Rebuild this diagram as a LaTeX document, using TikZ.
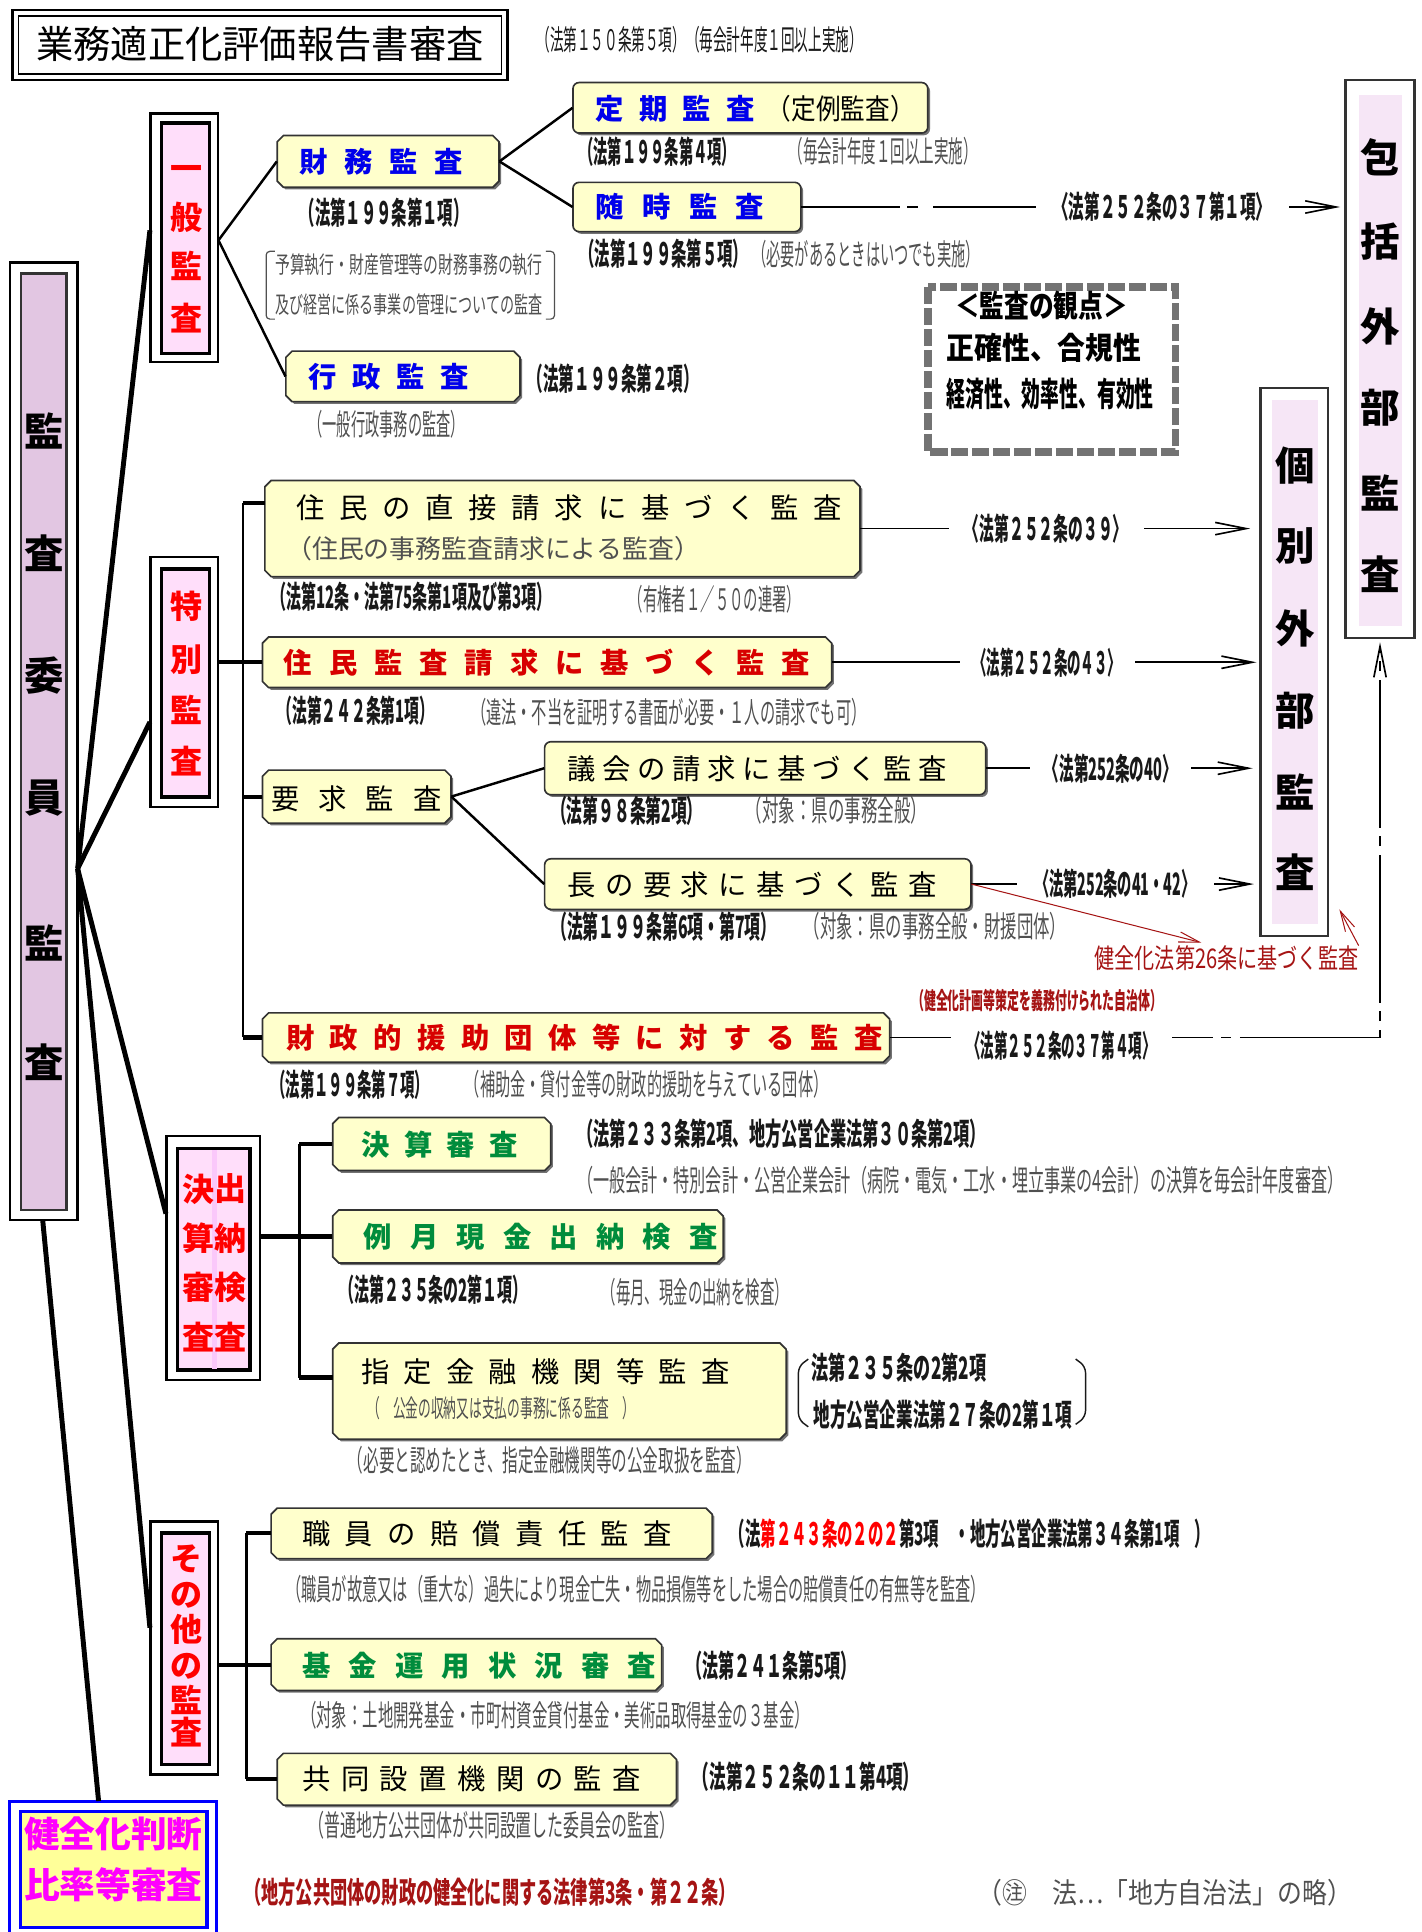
\documentclass[tikz,border=0pt]{standalone}
\usepackage{fontspec}
\usepackage{graphicx}
\setmainfont{Noto Sans CJK JP}
\usetikzlibrary{arrows.meta,fit}
\newlength\upx
\setlength\upx{0.6pt}
\newcommand\fs[1]{\fontsize{#1\upx}{#1\upx}\selectfont}
\newcommand\fw[2]{\resizebox{#1\upx}{\height}{#2}}
\def\sprx#1#2{#1\ifx#2\relax\else\hfill\expandafter\sprx\expandafter#2\fi}
\newcommand\spr[2]{\makebox[#1\upx][s]{\sprx#2\relax}}
\definecolor{lyel}{RGB}{255,255,204}
\definecolor{mpur}{RGB}{226,198,226}
\definecolor{lpink}{RGB}{255,222,250}
\definecolor{lpinkb}{RGB}{246,230,246}
\definecolor{pstripe}{RGB}{250,200,250}
\definecolor{jblue}{RGB}{0,0,235}
\definecolor{jred}{RGB}{215,0,0}
\definecolor{vred}{RGB}{255,0,0}
\definecolor{jgreen}{RGB}{0,140,60}
\definecolor{dred}{RGB}{165,20,20}
\definecolor{kyel}{RGB}{255,255,153}
\definecolor{mag}{RGB}{255,0,255}
\definecolor{lawc}{RGB}{25,25,25}
\definecolor{gnc}{RGB}{80,80,80}
\tikzset{
  ybox/.style={fill=lyel, draw=black!80, line width=0.8pt},
  shad/.style={fill=black!55},
  tx/.style={anchor=west, inner sep=0pt},
  vmain/.style={font=\fs{32}\bfseries, inner sep=0pt},
  vredch/.style={font=\fs{26}\bfseries, text=vred, inner sep=0pt},
  fanline/.style={line width=2.4pt},
  thinl/.style={line width=1.2pt},
  busl/.style={line width=1.1pt},
  stub/.style={line width=2pt},
  arrline/.style={line width=0.8pt, -{Straight Barb[length=15pt,width=6pt]}},
  redarr/.style={draw=dred, line width=0.5pt, -{Straight Barb[length=10pt,width=5pt]}},
  lbl/.style={fill=white, inner ysep=1pt, font=\fs{25}\bfseries, text=lawc},
}
\newcommand\chbox[5]{%
  \fill[shad,shift={(1.8,1.8)}] (#2+5,#3) -- (#4-5,#3) -- (#4,#3+5) -- (#4,#5-5) -- (#4-5,#5) -- (#2+5,#5) -- (#2,#5-5) -- (#2,#3+5) -- cycle;
  \filldraw[ybox] (#2+5,#3) -- (#4-5,#3) -- (#4,#3+5) -- (#4,#5-5) -- (#4-5,#5) -- (#2+5,#5) -- (#2,#5-5) -- (#2,#3+5) -- cycle;
  \node[fit={(#2,#3) (#4,#5)}, inner sep=0pt] (#1) {};}
\newcommand\rdbox[5]{%
  \fill[shad,rounded corners=5\upx,shift={(1.8,1.8)}] (#2,#3) rectangle (#4,#5);
  \filldraw[ybox,rounded corners=5\upx] (#2,#3) rectangle (#4,#5);
  \node[fit={(#2,#3) (#4,#5)}, inner sep=0pt] (#1) {};}
\newcommand\nt[6]{\node[tx, text=#5, font=\fs{#4}] (#1) at (#2) {\fw{#3}{#6}};}
\newcommand\ntb[6]{\node[tx, text=#5, font=\fs{#4}\bfseries] (#1) at (#2) {\fw{#3}{#6}};}
\begin{document}
\begin{tikzpicture}[x=0.6pt,y=-0.6pt]
\useasboundingbox (0,0) rectangle (1154,1568);

% ---------- title
\draw[line width=1.3pt] (10,8) rectangle (412,65);
\draw[line width=0.9pt] (15,13) rectangle (407,60);
\node[fit={(10,8) (412,65)}, inner sep=0pt] (titlebox) {};
\node[inner sep=0pt, font=\fs{31}] (title) at (211,36) {\fw{363}{業務適正化評価報告書審査}};
\nt{titleref}{435,32}{265}{23}{lawc}{（法第１５０条第５項）（毎会計年度１回以上実施）}

% ---------- main vertical box
\draw[line width=1.2pt, fill=white] (8,213) rectangle (63,990);
\filldraw[fill=mpur, draw=black!80, line width=1.2pt] (17,222) rectangle (54,982);
\node[fit={(8,213) (63,990)}, inner sep=0pt] (mainO) {};
\foreach \ch/\yy [count=\i] in {監/350,査/449,委/548,員/648,監/765,査/862}
  \node[vmain] (mc\i) at (36,\yy) {\ch};

% ---------- category boxes
\draw[line width=1.2pt, fill=white] (122,92) rectangle (177,294);
\filldraw[fill=lpink, draw=black, line width=1.8pt] (131,100) rectangle (170,287);
\node[fit={(122,92) (177,294)}, inner sep=0pt] (ippanO) {};
\foreach \ch/\yy [count=\i] in {一/140,般/176,監/216,査/258}
  \node[vredch] (ip\i) at (151,\yy) {\ch};

\draw[line width=1.2pt, fill=white] (122,452) rectangle (177,655);
\filldraw[fill=lpink, draw=black, line width=1.8pt] (131,462) rectangle (170,647);
\node[fit={(122,452) (177,655)}, inner sep=0pt] (tokO) {};
\foreach \ch/\yy [count=\i] in {特/492,別/535,監/576,査/618}
  \node[vredch] (tk\i) at (151,\yy) {\ch};

\draw[line width=1.2pt, fill=white] (135,922) rectangle (211,1120);
\filldraw[fill=lpink, draw=black, line width=1.8pt] (144,932) rectangle (203,1112);
\fill[pstripe] (172,933) rectangle (176,1111);
\node[fit={(135,922) (211,1120)}, inner sep=0pt] (kessanO) {};
\foreach \ch/\yy [count=\i] in {決/965,算/1005,審/1045,査/1085}
  \node[vredch] (ks\i) at (161,\yy) {\ch};
\foreach \ch/\yy [count=\i] in {出/965,納/1005,検/1045,査/1085}
  \node[vredch] (sn\i) at (187,\yy) {\ch};

\draw[line width=1.2pt, fill=white] (122,1235) rectangle (177,1440);
\filldraw[fill=lpink, draw=black, line width=1.8pt] (131,1244) rectangle (170,1432);
\node[fit={(122,1235) (177,1440)}, inner sep=0pt] (sonotaO) {};
\foreach \ch/\yy [count=\i] in {そ/1265,の/1295,他/1322,の/1352,監/1380,査/1406}
  \node[vredch] (so\i) at (151,\yy) {\ch};

% ---------- kenzenka box
\draw[draw=blue, line width=1.5pt, fill=white] (8,1462) rectangle (176,1578);
\filldraw[fill=kyel, draw=blue, line width=1.5pt] (17,1470) rectangle (168,1564);
\node[fit={(8,1462) (176,1568)}, inner sep=0pt] (kenO) {};
\node[inner sep=0pt, font=\fs{29}\bfseries, text=mag] (ken1) at (92,1488) {\fw{145}{健全化判断}};
\node[inner sep=0pt, font=\fs{29}\bfseries, text=mag] (ken2) at (92,1530) {\fw{145}{比率等審査}};

% ---------- external audit boxes
\draw[draw=black!80, line width=1pt, fill=white] (1092,65) rectangle (1148,518);
\fill[lpinkb] (1103,77) rectangle (1138,508);
\node[fit={(1092,65) (1148,518)}, inner sep=0pt] (hokatsu) {};
\foreach \ch/\yy [count=\i] in {包/128,括/196,外/265,部/331,監/400,査/466}
  \node[vmain] (hk\i) at (1120,\yy) {\ch};

\draw[draw=black!80, line width=1pt, fill=white] (1023,315) rectangle (1078,760);
\fill[lpinkb] (1032,325) rectangle (1070,750);
\node[fit={(1023,315) (1078,760)}, inner sep=0pt] (kobetsu) {};
\foreach \ch/\yy [count=\i] in {個/378,別/443,外/510,部/577,監/643,査/708}
  \node[vmain] (kb\i) at (1051,\yy) {\ch};

% ---------- viewpoint box
\draw[black!55, line width=3.6pt, dash pattern=on 14\upx off 3\upx] (753,233) rectangle (954,367);
\node[fit={(750,230) (957,370)}, inner sep=0pt] (kanten) {};
\node[tx, font=\fs{25}\bfseries] (kt1) at (775,248) {\fw{140}{＜監査の観点＞}};
\node[tx, font=\fs{25}\bfseries] (kt2) at (768,282) {\fw{158}{正確性、合規性}};
\node[tx, font=\fs{27}\bfseries] (kt3) at (768,320) {\fw{168}{経済性、効率性、有効性}};

% ---------- general audit
\chbox{zaimu}{225}{110}{405}{152}
\node[tx, font=\fs{23}\bfseries, text=jblue] (zaimuT) at (243,131) {\spr{132}{財務監査}};
\chbox{gyousei}{232}{285}{422}{326}
\node[tx, font=\fs{23}\bfseries, text=jblue] (gyouseiT) at (250,306) {\spr{130}{行政監査}};
\rdbox{teiki}{465}{67}{753}{108}
\node[tx, font=\fs{23}\bfseries, text=jblue] (teikiT) at (483,88) {\spr{129}{定期監査}};
\node[tx, font=\fs{23}] (teikiT2) at (622,88) {\fw{120}{（定例監査）}};
\rdbox{zuiji}{465}{148}{650}{188}
\node[tx, font=\fs{23}\bfseries, text=jblue] (zuijiT) at (483,168) {\spr{137}{随時監査}};

\ntb{n1}{243,173}{137}{25}{lawc}{（法第１９９条第１項）}
\nt{yosan1}{223,215}{217}{19}{gnc}{予算執行・財産管理等の財務事務の執行}
\nt{yosan2}{223,247}{217}{19}{gnc}{及び経営に係る事業の管理についての監査}
\draw[gnc, line width=0.6pt, rounded corners=3\upx] (223,204) -- (216,204) -- (216,259) -- (223,259);
\draw[gnc, line width=0.6pt, rounded corners=3\upx] (443,204) -- (450,204) -- (450,259) -- (443,259);
\ntb{n2}{428,307}{139}{25}{lawc}{（法第１９９条第２項）}
\nt{n3}{250,344}{127}{24}{gnc}{（一般行政事務の監査）}
\ntb{n4}{470,123}{127}{25}{lawc}{（法第１９９条第４項）}
\nt{n5}{640,123}{153}{24}{gnc}{（毎会計年度１回以上実施）}
\ntb{n6}{470,206}{137}{25}{lawc}{（法第１９９条第５項）}
\nt{n7}{610,206}{185}{24}{gnc}{（必要があるときはいつでも実施）}

% ---------- special audit
\chbox{j1}{215}{390}{698}{468}
\node[tx, font=\fs{23}] (j1T) at (240,412) {\spr{443}{住民の直接請求に基づく監査}};
\node[tx, font=\fs{21}, text=gnc] (j1T2) at (232,445) {\spr{308}{（住民の事務監査請求による監査）}};
\ntb{n8}{220,484}{227}{25}{lawc}{（法第12条・法第75条第1項及び第3項）}
\nt{n9}{510,486}{140}{24}{gnc}{（有権者１／５０の連署）}

\chbox{j2}{213}{517}{675}{558}
\node[tx, font=\fs{23}\bfseries, text=jred] (j2T) at (230,538) {\spr{427}{住民監査請求に基づく監査}};
\ntb{n10}{225,577}{127}{25}{lawc}{（法第２４２条第1項）}
\nt{n11}{382,578}{321}{24}{gnc}{（違法・不当を証明する書面が必要・１人の請求でも可）}

\chbox{youkyu}{213}{625}{366}{668}
\node[tx, font=\fs{23}] (youkyuT) at (220,648) {\spr{138}{要求監査}};

\rdbox{gikai}{442}{602}{800}{645}
\node[tx, font=\fs{23}] (gikaiT) at (460,624) {\spr{308}{議会の請求に基づく監査}};
\ntb{n12}{447,658}{123}{25}{lawc}{（法第９８条第2項）}
\nt{n13}{605,658}{147}{24}{gnc}{（対象：県の事務全般）}

\rdbox{chou}{442}{697}{788}{738}
\node[tx, font=\fs{23}] (chouT) at (460,718) {\spr{300}{長の要求に基づく監査}};
\ntb{n14}{447,752}{183}{25}{lawc}{（法第１９９条第6項・第7項）}
\nt{n15}{652,752}{213}{24}{gnc}{（対象：県の事務全般・財援団体）}

\nt{kz26}{888,778}{214}{22}{dred}{健全化法第26条に基づく監査}
\ntb{kz26b}{740,812}{203}{19}{dred}{（健全化計画等策定を義務付けられた自治体）}

\chbox{zaisei}{213}{822}{722}{862}
\node[tx, font=\fs{23}\bfseries, text=jred] (zaiseiT) at (232,842) {\spr{484}{財政的援助団体等に対する監査}};
\ntb{n16}{220,880}{128}{25}{lawc}{（法第１９９条第７項）}
\nt{n17}{377,880}{295}{24}{gnc}{（補助金・貸付金等の財政的援助を与えている団体）}

% ---------- settlement / cash audit
\chbox{kessan}{270}{907}{447}{950}
\node[tx, font=\fs{23}\bfseries, text=jgreen] (kessanT) at (293,929) {\spr{127}{決算審査}};
\ntb{n18}{468,920}{332}{25}{lawc}{（法第２３３条第2項、地方公営企業法第３０条第2項）}
\nt{n19}{468,958}{622}{24}{gnc}{（一般会計・特別会計・公営企業会計（病院・電気・工水・埋立事業の4会計）の決算を毎会計年度審査）}

\chbox{reigetsu}{270}{982}{587}{1025}
\node[tx, font=\fs{23}\bfseries, text=jgreen] (reigetsuT) at (295,1004) {\spr{287}{例月現金出納検査}};
\ntb{n20}{275,1047}{153}{25}{lawc}{（法第２３５条の2第１項）}
\nt{n21}{488,1049}{152}{24}{gnc}{（毎月、現金の出納を検査）}

\chbox{shitei}{270}{1090}{638}{1168}
\node[tx, font=\fs{23}] (shiteiT) at (293,1113) {\spr{299}{指定金融機関等監査}};
\nt{shiteiT2}{298,1143}{217}{20}{gnc}{（　公金の収納又は支払の事務に係る監査　）}
\nt{n22}{282,1185}{328}{24}{gnc}{（必要と認めたとき、指定金融機関等の公金取扱を監査）}
\ntb{n23}{658,1110}{142}{25}{lawc}{法第２３５条の2第2項}
\ntb{n24}{660,1148}{210}{25}{lawc}{地方公営企業法第２７条の2第１項}
\draw[lawc, line width=0.7pt, rounded corners=5\upx] (656,1103) -- (648,1109) -- (648,1152) -- (656,1158);
\draw[lawc, line width=0.7pt, rounded corners=5\upx] (873,1103) -- (881,1109) -- (881,1150) -- (873,1156);

% ---------- other audits
\chbox{shokuin}{220}{1224}{578}{1265}
\node[tx, font=\fs{23}] (shokuinT) at (245,1245) {\spr{300}{職員の賠償責任監査}};
\ntb{n25}{592,1245}{390}{25}{lawc}{（法\textcolor{vred}{第２４３条の２の２}第3項　・地方公営企業法第３４条第1項　）}
\nt{n26}{232,1290}{568}{24}{gnc}{（職員が故意又は（重大な）過失により現金亡失・物品損傷等をした場合の賠償責任の有無等を監査）}

\chbox{kikin}{220}{1330}{537}{1372}
\node[tx, font=\fs{23}\bfseries, text=jgreen] (kikinT) at (245,1352) {\spr{287}{基金運用状況審査}};
\ntb{n27}{557,1352}{138}{25}{lawc}{（法第２４１条第5項）}
\nt{n28}{244,1392}{413}{24}{gnc}{（対象：土地開発基金・市町村資金貸付基金・美術品取得基金の３基金）}

\chbox{kyoudou}{225}{1423}{549}{1465}
\node[tx, font=\fs{23}] (kyoudouT) at (245,1444) {\spr{275}{共同設置機関の監査}};
\ntb{n29}{562,1442}{184}{25}{lawc}{（法第２５２条の１１第4項）}
\nt{n30}{250,1481}{298}{24}{gnc}{（普通地方公共団体が共同設置した委員会の監査）}

\ntb{n31}{198,1536}{399}{24}{dred}{（地方公共団体の財政の健全化に関する法律第3条・第２２条）}
\nt{n32}{793,1536}{304}{23}{gnc}{（㊟　法…「地方自治法」の略）}

% ---------- fan from main box
\coordinate (fan) at (63,705);
\draw[fanline] (fan) -- ([yshift=3.6pt]ippanO.west);
\draw[fanline] (fan) -- ([yshift=-19.5pt]tokO.west);
\draw[fanline] (fan) -- ([yshift=21.6pt]kessanO.west);
\draw[fanline] (fan) -- ([yshift=9.9pt]sonotaO.west);
\draw[fanline] ([xshift=-0.5pt]mainO.south) -- ([xshift=-7.2pt]kenO.north);

% ---------- general audit connectors
\draw[thinl] ([yshift=-1.2pt]ippanO.east) -- (zaimu.west);
\draw[thinl] ([yshift=-1.2pt]ippanO.east) -- (gyousei.west);
\draw[thinl] (zaimu.east) -- (teiki.west);
\draw[thinl] (zaimu.east) -- (zuiji.west);

% ---------- special audit bus
\coordinate (busA) at (197,0);
\coordinate (j1L) at (215,408);
\draw[busl] (busA |- j1L) -- (busA |- zaisei.west);
\draw[stub] (busA |- j1L) -- (j1L);
\draw[stub] (tokO.east |- j2.west) -- (j2.west);
\draw[stub] (busA |- youkyu.west) -- (youkyu.west);
\draw[stub] (busA |- zaisei.west) -- (zaisei.west);
\draw[thinl] (youkyu.east) -- (gikai.west);
\draw[thinl] (youkyu.east) -- (chou.west);

% ---------- settlement bus
\coordinate (busB) at (243,0);
\coordinate (shiteiL) at (270,1118);
\draw[busl] (busB |- kessan.west) -- (busB |- shiteiL);
\draw[stub] (busB |- kessan.west) -- (kessan.west);
\draw[stub] (kessanO.east |- reigetsu.west) -- (reigetsu.west);
\draw[stub] (busB |- shiteiL) -- (shiteiL);

% ---------- other bus
\coordinate (busC) at (200,0);
\draw[busl] (busC |- shokuin.west) -- (busC |- kyoudou.west);
\draw[stub] (busC |- shokuin.west) -- (shokuin.west);
\draw[stub] (sonotaO.east |- kikin.west) -- (kikin.west);
\draw[stub] (busC |- kyoudou.west) -- (kyoudou.west);

% ---------- arrows to external audits
\draw[arrline, shorten >=4\upx, dash pattern=on 80\upx off 6\upx on 9\upx off 12\upx on 2000\upx] (zuiji.east) -- node[lbl, pos=0.664, inner xsep=14\upx] (l1) {\fw{177}{〈法第２５２条の３７第１項〉}} (hokatsu.west |- zuiji.east);
\draw[arrline, shorten >=8\upx] (j1.east) -- node[lbl, pos=0.465, inner xsep=13\upx] (l2) {\fw{132}{〈法第２５２条の３９〉}} (kobetsu.west |- j1.east);
\draw[arrline, shorten >=3\upx] (j2.east) -- node[lbl, pos=0.503, inner xsep=11\upx] (l3) {\fw{120}{〈法第２５２条の４３〉}} (kobetsu.west |- j2.east);
\draw[arrline, shorten >=6\upx] (gikai.east) -- node[lbl, pos=0.455, inner xsep=12\upx] (l4) {\fw{107}{〈法第252条の40〉}} (kobetsu.west |- gikai.east);
\draw[arrline, shorten >=5\upx] (chou.east) -- node[lbl, pos=0.498, inner xsep=15\upx] (l5) {\fw{130}{〈法第252条の41・42〉}} (kobetsu.west |- chou.east);
\draw[arrline, shorten >=3\upx, dash pattern=on 120\upx off 7\upx on 8\upx off 7\upx] (zaisei.east) -- node[lbl, pos=0.35, inner xsep=13\upx, yshift=-4pt] (l6) {\fw{153}{〈法第２５２条の３７第４項〉}} (hokatsu.south |- zaisei.east) -- (hokatsu.south);

% ---------- red arrows
\coordinate (rt1) at (975,765);
\coordinate (rt2) at (1087,738);
\draw[redarr] (chou.east) -- (rt1);
\draw[redarr] (kz26.north east) -- (rt2);
\end{tikzpicture}
\end{document}
